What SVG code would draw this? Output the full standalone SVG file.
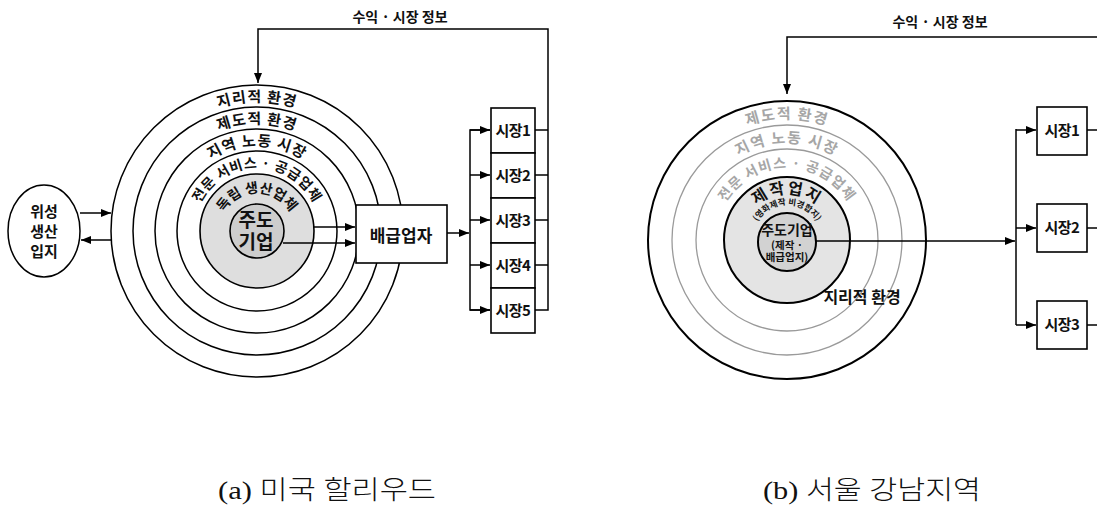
<svg xmlns="http://www.w3.org/2000/svg" width="1097" height="513" viewBox="0 0 1097 513">
<style>
.ln{fill:none;stroke:#000;stroke-width:1.5}
.ring{fill:none;stroke:#000;stroke-width:1.5}
.gring{fill:none;stroke:#9a9a9a;stroke-width:1.3}
.box{fill:#fff;stroke:#000;stroke-width:1.6}
.t{font-family:"Noto Sans CJK KR","Noto Sans",sans-serif;font-weight:bold;fill:#111}
.g{fill:#a6a6a6}
.cap{font-family:"Liberation Serif","Noto Sans CJK KR",serif;font-weight:300;font-size:26px;fill:#111}
</style>
<defs>
<marker id="ah" markerUnits="userSpaceOnUse" markerWidth="12" markerHeight="10" refX="10" refY="4" orient="auto">
<path d="M0,0 L10,4 L0,8 z" fill="#000"/>
</marker>
<path id="pa1" d="M128,231 A129,129 0 0 1 386,231 A129,129 0 0 1 128,231"/>
<path id="pa2" d="M150,231 A107,107 0 0 1 364,231 A107,107 0 0 1 150,231"/>
<path id="pa3" d="M172,231 A85,85 0 0 1 342,231 A85,85 0 0 1 172,231"/>
<path id="pa4" d="M194,231 A63,63 0 0 1 320,231 A63,63 0 0 1 194,231"/>
<path id="pa5" d="M219,231 A38,38 0 0 1 295,231 A38,38 0 0 1 219,231"/>
<path id="pb1" d="M666,240 A121,121 0 0 1 908,240 A121,121 0 0 1 666,240"/>
<path id="pb2" d="M690,240 A97,97 0 0 1 884,240 A97,97 0 0 1 690,240"/>
<path id="pb3" d="M715,240 A72,72 0 0 1 859,240 A72,72 0 0 1 715,240"/>
<path id="pb4" d="M741,240 A46,46 0 0 1 833,240 A46,46 0 0 1 741,240"/>
<path id="pb5" d="M752,240 A35,35 0 0 1 822,240 A35,35 0 0 1 752,240"/>
</defs>

<!-- (a) Hollywood -->
<g id="a-rings">
<circle class="ring" cx="257" cy="231" r="146"/>
<circle class="ring" cx="257" cy="231" r="124"/>
<circle class="ring" cx="257" cy="231" r="102"/>
<circle class="ring" cx="257" cy="231" r="80"/>
<circle cx="257" cy="231" r="57" fill="#dedede" stroke="#000" stroke-width="1.6"/>
<text class="t" font-size="15"><textPath href="#pa1" startOffset="25%" text-anchor="middle" letter-spacing="1">지리적 환경</textPath></text>
<text class="t" font-size="15"><textPath href="#pa2" startOffset="25%" text-anchor="middle" letter-spacing="1">제도적 환경</textPath></text>
<text class="t" font-size="15"><textPath href="#pa3" startOffset="25%" text-anchor="middle" letter-spacing="1">지역 노동 시장</textPath></text>
<text class="t" font-size="14"><textPath href="#pa4" startOffset="25%" text-anchor="middle" letter-spacing="0.5">전문 서비스 · 공급업체</textPath></text>
<text class="t" font-size="14"><textPath href="#pa5" startOffset="25%" text-anchor="middle">독립 생산업체</textPath></text>
</g>
<g id="a-core">
<circle cx="257" cy="231" r="27" fill="#cdcdcd" stroke="#000" stroke-width="1.6"/>
<text class="t" font-size="19" font-weight="500" x="256" y="227" text-anchor="middle">주도</text>
<text class="t" font-size="19" font-weight="500" x="256" y="249" text-anchor="middle">기업</text>
</g>
<g id="a-satellite">
<ellipse cx="44" cy="231" rx="36" ry="46" fill="#fff" stroke="#000" stroke-width="1.5"/>
<text class="t" font-size="15" x="44" y="217" text-anchor="middle">위성</text>
<text class="t" font-size="15" x="44" y="237" text-anchor="middle">생산</text>
<text class="t" font-size="15" x="44" y="257" text-anchor="middle">입지</text>
</g>
<g id="a-connectors">
<line class="ln" x1="80" y1="213" x2="111" y2="213" marker-end="url(#ah)"/>
<line class="ln" x1="112" y1="240" x2="81" y2="240" marker-end="url(#ah)"/>
<line class="ln" x1="314" y1="227" x2="355" y2="227" marker-end="url(#ah)"/>
<line class="ln" x1="283" y1="243" x2="355" y2="243" marker-end="url(#ah)"/>
<line class="ln" x1="447" y1="233" x2="469" y2="233" marker-end="url(#ah)"/>
<polyline class="ln" points="490,130 470,130 470,310 490,310"/>
<line class="ln" x1="470" y1="130" x2="490" y2="130" marker-end="url(#ah)"/>
<line class="ln" x1="470" y1="175" x2="490" y2="175" marker-end="url(#ah)"/>
<line class="ln" x1="470" y1="220" x2="490" y2="220" marker-end="url(#ah)"/>
<line class="ln" x1="470" y1="265" x2="490" y2="265" marker-end="url(#ah)"/>
<line class="ln" x1="470" y1="310" x2="490" y2="310" marker-end="url(#ah)"/>
<line class="ln" x1="535" y1="130" x2="548" y2="130"/>
<line class="ln" x1="535" y1="175" x2="548" y2="175"/>
<line class="ln" x1="535" y1="220" x2="548" y2="220"/>
<line class="ln" x1="535" y1="265" x2="548" y2="265"/>
<polyline class="ln" points="535,310 548,310 548,29 258,29 258,83" marker-end="url(#ah)"/>
<text class="t" font-size="14" x="400" y="22" text-anchor="middle">수익 · 시장 정보</text>
</g>
<g id="a-distributor">
<rect class="box" x="356" y="205" width="91" height="58"/>
<text class="t" font-size="17" x="401" y="242" text-anchor="middle">배급업자</text>
</g>
<g id="a-markets">
<rect class="box" x="491" y="108" width="44" height="45"/>
<rect class="box" x="491" y="153" width="44" height="45"/>
<rect class="box" x="491" y="198" width="44" height="45"/>
<rect class="box" x="491" y="243" width="44" height="45"/>
<rect class="box" x="491" y="288" width="44" height="45"/>
<text class="t" font-size="15" x="513" y="136" text-anchor="middle" letter-spacing="-0.5">시장1</text>
<text class="t" font-size="15" x="513" y="181" text-anchor="middle" letter-spacing="-0.5">시장2</text>
<text class="t" font-size="15" x="513" y="226" text-anchor="middle" letter-spacing="-0.5">시장3</text>
<text class="t" font-size="15" x="513" y="271" text-anchor="middle" letter-spacing="-0.5">시장4</text>
<text class="t" font-size="15" x="513" y="316" text-anchor="middle" letter-spacing="-0.5">시장5</text>
</g>

<!-- (b) Gangnam -->
<g id="b-rings">
<circle cx="787" cy="240" r="139" fill="#fff" stroke="#000" stroke-width="2"/>
<circle class="gring" cx="787" cy="240" r="115"/>
<circle class="gring" cx="787" cy="240" r="91"/>
<text class="t g" font-size="15"><textPath href="#pb1" startOffset="25%" text-anchor="middle" letter-spacing="1.5">제도적 환경</textPath></text>
<text class="t g" font-size="15"><textPath href="#pb2" startOffset="25%" text-anchor="middle" letter-spacing="1.5">지역 노동 시장</textPath></text>
<text class="t g" font-size="14"><textPath href="#pb3" startOffset="25%" text-anchor="middle" letter-spacing="1">전문 서비스 · 공급업체</textPath></text>
<text class="t" font-size="16" x="862" y="303" text-anchor="middle">지리적 환경</text>
</g>
<g id="b-production">
<circle cx="787" cy="240" r="63" fill="#e4e4e4" stroke="#000" stroke-width="2"/>
<text class="t" font-size="16"><textPath href="#pb4" startOffset="25%" text-anchor="middle" letter-spacing="2">제작업지</textPath></text>
<text class="t" font-size="8.5"><textPath href="#pb5" startOffset="25%" text-anchor="middle">(영화제작 비경합지)</textPath></text>
</g>
<g id="b-core">
<circle cx="787" cy="242" r="29" fill="#d2d2d2" stroke="#000" stroke-width="2"/>
<text class="t" font-size="14" font-weight="500" x="787" y="235" text-anchor="middle">주도기업</text>
<text class="t" font-size="10.5" x="787" y="249" text-anchor="middle">(제작 ·</text>
<text class="t" font-size="10.5" x="787" y="261" text-anchor="middle">배급업지)</text>
</g>
<g id="b-connectors">
<line class="ln" x1="816" y1="241" x2="1015" y2="241" marker-end="url(#ah)"/>
<line class="ln" x1="1016" y1="129" x2="1016" y2="325"/>
<line class="ln" x1="1016" y1="130" x2="1036" y2="130" marker-end="url(#ah)"/>
<line class="ln" x1="1016" y1="228" x2="1036" y2="228" marker-end="url(#ah)"/>
<line class="ln" x1="1016" y1="325" x2="1036" y2="325" marker-end="url(#ah)"/>
<line class="ln" x1="1087" y1="130" x2="1097" y2="130"/>
<line class="ln" x1="1087" y1="228" x2="1097" y2="228"/>
<line class="ln" x1="1087" y1="325" x2="1097" y2="325"/>
<polyline class="ln" points="1097,37 787,37 787,94" marker-end="url(#ah)"/>
<text class="t" font-size="14" x="940" y="27" text-anchor="middle">수익 · 시장 정보</text>
</g>
<g id="b-markets">
<rect class="box" x="1037" y="107" width="50" height="48"/>
<rect class="box" x="1037" y="204" width="50" height="48"/>
<rect class="box" x="1037" y="301" width="50" height="48"/>
<text class="t" font-size="15" x="1062" y="136" text-anchor="middle" letter-spacing="-0.5">시장1</text>
<text class="t" font-size="15" x="1062" y="233" text-anchor="middle" letter-spacing="-0.5">시장2</text>
<text class="t" font-size="15" x="1062" y="330" text-anchor="middle" letter-spacing="-0.5">시장3</text>
</g>

<g id="captions">
<text class="cap" x="327" y="499" text-anchor="middle" textLength="218" lengthAdjust="spacingAndGlyphs">(a) 미국 할리우드</text>
<text class="cap" x="872" y="499" text-anchor="middle" textLength="218" lengthAdjust="spacingAndGlyphs">(b) 서울 강남지역</text>
</g>
</svg>
